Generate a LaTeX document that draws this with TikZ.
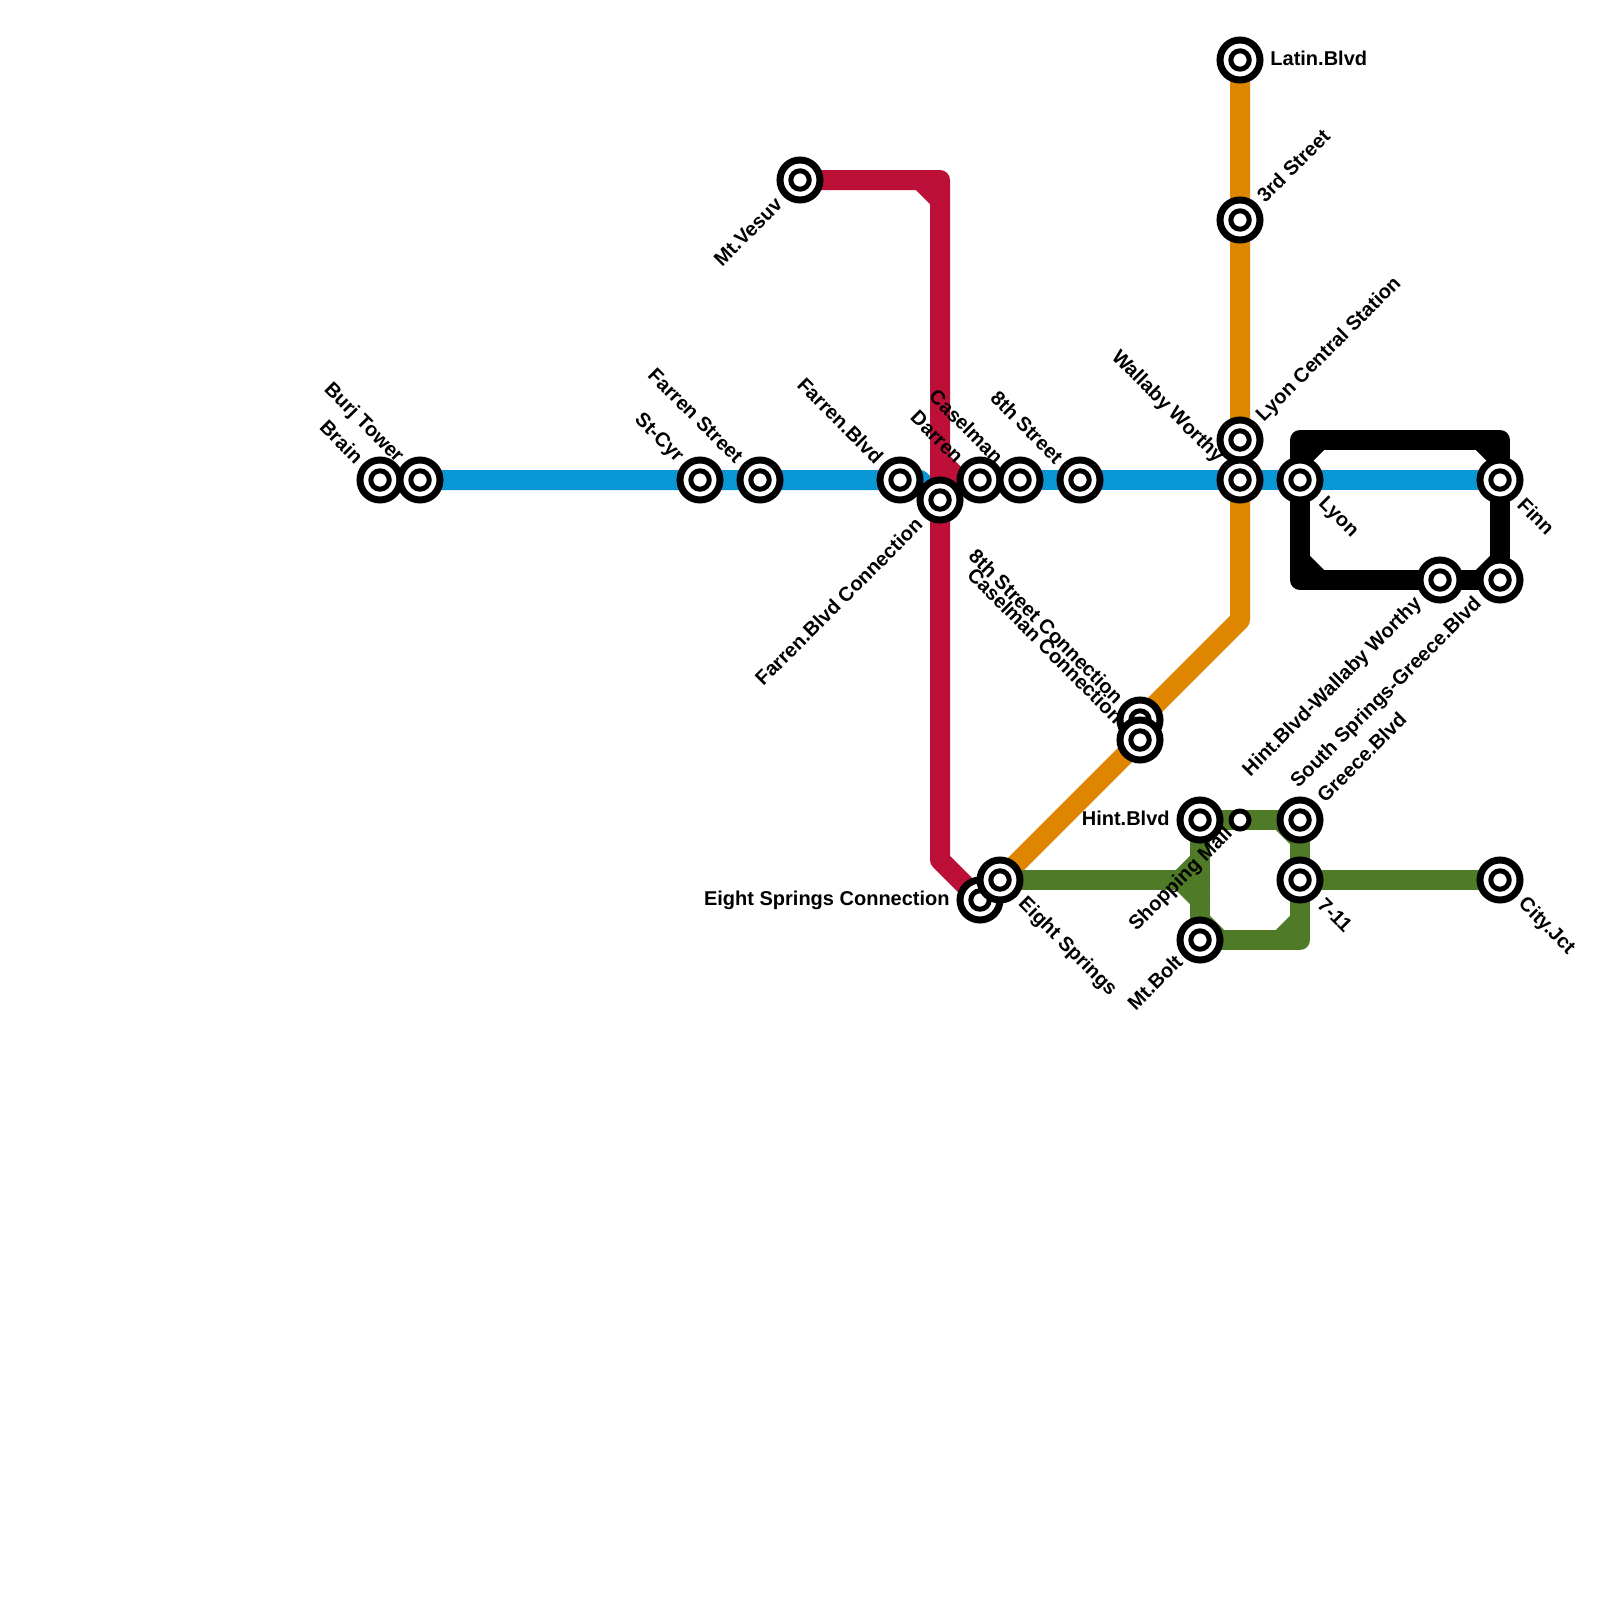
\documentclass[tikz,border=0pt]{standalone}
\usepackage{fontspec}
\setmainfont{Liberation Sans}
\usetikzlibrary{backgrounds}
\definecolor{lblue}{HTML}{0896D7}
\definecolor{lred}{HTML}{BD1038}
\definecolor{lorange}{HTML}{DF8600}
\definecolor{lgreen}{HTML}{4F7A28}
\tikzset{
  x=0.5pt,y=-0.5pt,
  metro/.style={line width=10pt,line join=round,line cap=round},
  stn/.style={circle,draw=black,fill=white,line width=3.5pt,minimum size=20pt,inner sep=0pt,
    path picture={\draw[line width=2.5pt] (path picture bounding box.center) circle[radius=4.6pt];}},
  smallstn/.style={circle,draw=black,fill=white,line width=2.5pt,minimum size=9pt,inner sep=0pt},
  txt/.style={font=\bfseries\fontsize{10pt}{11pt}\selectfont,inner sep=0pt,text=black},
  ul/.style={txt,rotate=-45,anchor=east},
  ur/.style={txt,rotate=45,anchor=west},
  dl/.style={txt,rotate=45,anchor=east},
  dr/.style={txt,rotate=-45,anchor=west},
  hr/.style={txt,anchor=west},
  hl/.style={txt,anchor=east},
}
\begin{document}
\begin{tikzpicture}
\useasboundingbox (0,0) rectangle (1600,1600);
% stations
\node[stn] (brain) at (380,480) {};
\node[stn] (burj) at (420,480) {};
\node[stn] (stcyr) at (700,480) {};
\node[stn] (farrenst) at (760,480) {};
\node[stn] (farrenb) at (900,480) {};
\node[stn] (farrenc) at (940,500) {};
\node[stn] (darren) at (980,480) {};
\node[stn] (casel) at (1020,480) {};
\node[stn] (eighth) at (1080,480) {};
\node[stn] (lyonc) at (1240,440) {};
\node[stn] (wallaby) at (1240,480) {};
\node[stn] (third) at (1240,220) {};
\node[stn] (latin) at (1240,60) {};
\node[stn] (lyon) at (1300,480) {};
\node[stn] (finn) at (1500,480) {};
\node[stn] (hintw) at (1440,580) {};
\node[stn] (south) at (1500,580) {};
\node[stn] (eighthc) at (1140,720) {};
\node[stn] (caselc) at (1140,740) {};
\node[stn] (eightc) at (980,900) {};
\node[stn] (eight) at (1000,880) {};
\node[stn] (hint) at (1200,820) {};
\node[smallstn] (shop) at (1240,820) {};
\node[stn] (greece) at (1300,820) {};
\node[stn] (seven) at (1300,880) {};
\node[stn] (city) at (1500,880) {};
\node[stn] (bolt) at (1200,940) {};
\node[stn] (vesuv) at (800,180) {};
% free corners of the lines
\coordinate (rA) at (940,180);
\coordinate (rA1) at (920,180);
\coordinate (rA2) at (940,200);
\coordinate (rB) at (940,460);
\coordinate (rC) at (960,480);
\coordinate (rD) at (940,860);
\coordinate (bA) at (920,480);
\coordinate (oA) at (1240,620);
\coordinate (kTL) at (1300,440);
\coordinate (kTR) at (1500,440);
\coordinate (kBL) at (1300,580);
\coordinate (gJ) at (1200,880);
\coordinate (gBR) at (1300,940);
\begin{pgfonlayer}{background}
\fill[white] (0,0) rectangle (1600,1600);
% black
\draw[metro,black] (lyon.center) -- (kTL) -- (kTR) -- (finn.center) -- (south.center) -- (hintw.center) -- (kBL) -- cycle;
\draw[metro,black] (1300,460) -- (1320,440);
\draw[metro,black] (1480,440) -- (1500,460);
\draw[metro,black] (1300,560) -- (1320,580);
\draw[metro,black] (1480,580) -- (1500,560);
% orange
\draw[metro,lorange] (latin.center) -- (third.center) -- (lyonc.center) -- (wallaby.center) -- (oA) -- (eighthc.center) -- (caselc.center) -- (eight.center);
% green
\draw[metro,lgreen] (eight.center) -- (gJ);
\draw[metro,lgreen] (hint.center) -- (shop.center) -- (greece.center) -- (seven.center) -- (gBR) -- (bolt.center) -- (gJ) -- (hint.center);
\draw[metro,lgreen] (seven.center) -- (city.center);
\draw[metro,lgreen] (1180,880) -- (1200,860);
\draw[metro,lgreen] (1180,880) -- (1200,900);
\draw[metro,lgreen] (1280,820) -- (1300,840);
\draw[metro,lgreen] (1280,940) -- (1300,920);
\draw[metro,lgreen] (1200,920) -- (1220,940);
% blue
\draw[metro,lblue] (brain.center) -- (burj.center) -- (stcyr.center) -- (farrenst.center) -- (farrenb.center) -- (bA) -- (farrenc.center);
\draw[metro,lblue] (darren.center) -- (casel.center) -- (eighth.center) -- (wallaby.center) -- (lyon.center) -- (finn.center);
% red
\draw[metro,lred] (vesuv.center) -- (rA) -- (rB) -- (rD) -- (eightc.center);
\draw[metro,lred] (rA1) -- (rA2);
\draw[metro,lred] (rB) -- (rC) -- (darren.center);
\end{pgfonlayer}
% labels
\node[ul] (tbrain) at ([shift={(-20,-20)}]brain.center) {Brain};
\node[ul] (tburj) at ([shift={(-20,-20)}]burj.center) {Burj Tower};
\node[ul] (tstcyr) at ([shift={(-20,-20)}]stcyr.center) {St-Cyr};
\node[ul] (tfarst) at ([shift={(-20,-20)}]farrenst.center) {Farren Street};
\node[ul] (tfarb) at ([shift={(-20,-20)}]farrenb.center) {Farren.Blvd};
\node[ul] (tdarren) at ([shift={(-20,-20)}]darren.center) {Darren};
\node[ul] (tcasel) at ([shift={(-20,-20)}]casel.center) {Caselman};
\node[ul] (teighth) at ([shift={(-20,-20)}]eighth.center) {8th Street};
\node[ul] (twall) at ([shift={(-20,-20)}]wallaby.center) {Wallaby Worthy};
\node[ul] (teighthc) at ([shift={(-20,-20)}]eighthc.center) {8th Street Connection};
\node[ul] (tcaselc) at ([shift={(-20,-20)}]caselc.center) {Caselman Connection};
\node[ur] (tthird) at ([shift={(20,-21)}]third.center) {3rd Street};
\node[ur] (tlyonc) at ([shift={(20,-21)}]lyonc.center) {Lyon Central Station};
\node[ur] (tgreece) at ([shift={(20,-21)}]greece.center) {Greece.Blvd};
\node[dl] (tvesuv) at ([shift={(-21,21)}]vesuv.center) {Mt.Vesuv};
\node[dl] (tfarc) at ([shift={(-21,21)}]farrenc.center) {Farren.Blvd Connection};
\node[dl] (thintw) at ([shift={(-21,21)}]hintw.center) {Hint.Blvd-Wallaby Worthy};
\node[dl] (tsouth) at ([shift={(-21,21)}]south.center) {South Springs-Greece.Blvd};
\node[dl] (tbolt) at ([shift={(-21,18)}]bolt.center) {Mt.Bolt};
\node[dl] (tshop) at ([shift={(-10,11)}]shop.center) {Shopping Mall};
\node[dr] (tlyon) at ([shift={(21,21)}]lyon.center) {Lyon};
\node[dr] (tfinn) at ([shift={(21,21)}]finn.center) {Finn};
\node[dr] (teight) at ([shift={(21,21)}]eight.center) {Eight Springs};
\node[dr] (tseven) at ([shift={(21,21)}]seven.center) {7-11};
\node[dr] (tcity) at ([shift={(21,21)}]city.center) {City.Jct};
\node[hr] (tlatin) at ([shift={(30,-2)}]latin.center) {Latin.Blvd};
\node[hl] (thint) at ([shift={(-30,-2)}]hint.center) {Hint.Blvd};
\node[hl] (teightc) at ([shift={(-30,0)}]eightc.center) {Eight Springs Connection};
\end{tikzpicture}
\end{document}
